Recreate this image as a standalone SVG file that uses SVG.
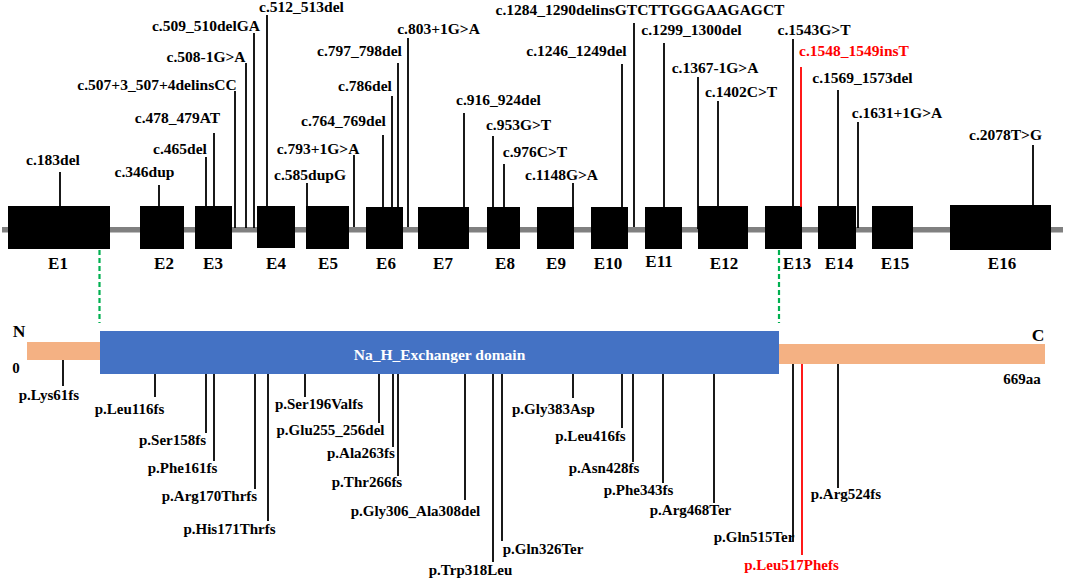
<svg xmlns="http://www.w3.org/2000/svg" width="1065" height="582" viewBox="0 0 1065 582">
<style>
text{font-family:"Liberation Serif","Times New Roman",serif;font-weight:bold;fill:#000;text-anchor:middle}
.m{font-size:15.5px}
.p{font-size:15px}
.ex{font-size:17px}
.red{fill:#FF0000}
.dom{fill:#FFFFFF;font-size:15.5px}
.big{font-size:17.5px}
line{stroke:#000;stroke-width:1.8}
line.r{stroke:#FF0000}
line.g{stroke:#00B050;stroke-width:2.2;stroke-dasharray:5,3}
.exon{fill:#000}
</style>
<rect width="1065" height="582" fill="#fff"/>
<g id="gene-backbone"><rect x="2" y="227" width="1061" height="5.5" fill="#808080"/></g>
<g id="exons">
<g id="E1"><rect class="exon" x="8" y="206" width="102" height="43"/><text class="ex" x="58" y="269">E1</text></g>
<g id="E2"><rect class="exon" x="140" y="206" width="44" height="43"/><text class="ex" x="164" y="269">E2</text></g>
<g id="E3"><rect class="exon" x="195" y="206" width="37" height="43"/><text class="ex" x="213" y="269">E3</text></g>
<g id="E4"><rect class="exon" x="257" y="206" width="38" height="42"/><text class="ex" x="276" y="269">E4</text></g>
<g id="E5"><rect class="exon" x="306" y="206" width="43" height="43"/><text class="ex" x="328" y="269">E5</text></g>
<g id="E6"><rect class="exon" x="366" y="207" width="37" height="42" fill="#111"/><text class="ex" x="386" y="269">E6</text></g>
<g id="E7"><rect class="exon" x="418" y="207" width="51" height="42" fill="#111"/><text class="ex" x="443" y="269">E7</text></g>
<g id="E8"><rect class="exon" x="487" y="207" width="33" height="42"/><text class="ex" x="505" y="269">E8</text></g>
<g id="E9"><rect class="exon" x="537" y="207" width="37" height="42" fill="#111"/><text class="ex" x="556" y="269">E9</text></g>
<g id="E10"><rect class="exon" x="591" y="207" width="37" height="42" fill="#111"/><text class="ex" x="608" y="269">E10</text></g>
<g id="E11"><rect class="exon" x="645" y="207" width="37" height="42"/><text class="ex" x="659" y="267">E11</text></g>
<g id="E12"><rect class="exon" x="698" y="206" width="50" height="43" fill="#111"/><text class="ex" x="724" y="269">E12</text></g>
<g id="E13"><rect class="exon" x="765" y="206" width="37" height="43" fill="#111"/><text class="ex" x="797" y="269">E13</text></g>
<g id="E14"><rect class="exon" x="818" y="206" width="38" height="43" fill="#111"/><text class="ex" x="839" y="269">E14</text></g>
<g id="E15"><rect class="exon" x="872" y="206" width="41" height="43"/><text class="ex" x="895" y="269">E15</text></g>
<g id="E16"><rect class="exon" x="950" y="205" width="101" height="45"/><text class="ex" x="1002" y="269">E16</text></g>
</g>
<g id="protein">
<rect id="N-term" x="27" y="342" width="73" height="18" fill="#F4B183"/>
<rect id="C-term" x="779" y="344" width="266" height="20" fill="#F4B183"/>
<g id="domain"><rect x="100" y="331" width="679" height="43" fill="#4472C4"/><text class="dom" x="439.5" y="360">Na_H_Exchanger domain</text></g>
<text class="big" x="19" y="337">N</text>
<text class="p" x="16" y="373">0</text>
<text class="big" x="1038" y="341">C</text>
<text class="p" x="1022" y="384">669aa</text>
</g>
<g id="connectors">
<line class="g" x1="99.5" y1="250" x2="99.5" y2="323"/>
<line class="g" x1="779" y1="250" x2="779" y2="323"/>
<line x1="60" y1="172" x2="60" y2="206"/>
<line x1="159" y1="185" x2="159" y2="206"/>
<line x1="206" y1="157" x2="206" y2="206"/>
<line x1="214" y1="133" x2="214" y2="215"/>
<line x1="235" y1="91" x2="235" y2="228"/>
<line x1="246" y1="63" x2="246" y2="228"/>
<line x1="254" y1="33" x2="254" y2="228"/>
<line x1="267" y1="15" x2="267" y2="206"/>
<line x1="307" y1="183" x2="307" y2="206"/>
<line x1="354" y1="155" x2="354" y2="227"/>
<line x1="383" y1="135" x2="383" y2="213"/>
<line x1="392" y1="96" x2="392" y2="207"/>
<line x1="398" y1="63" x2="398" y2="207"/>
<line x1="408" y1="38" x2="408" y2="227"/>
<line x1="464" y1="113" x2="464" y2="207"/>
<line x1="493" y1="136" x2="493" y2="207"/>
<line x1="504" y1="164" x2="504" y2="207"/>
<line x1="573" y1="183" x2="573" y2="207"/>
<line x1="622" y1="64" x2="622" y2="216"/>
<line x1="634" y1="23" x2="634" y2="227"/>
<line x1="664" y1="43" x2="664" y2="207"/>
<line x1="698" y1="77" x2="698" y2="229"/>
<line x1="718" y1="101" x2="718" y2="217"/>
<line x1="793" y1="39" x2="793" y2="207"/>
<line class="r" x1="801" y1="67" x2="801" y2="207"/>
<line x1="838" y1="90" x2="838" y2="215"/>
<line x1="858" y1="122" x2="858" y2="228"/>
<line x1="1033" y1="145" x2="1033" y2="205"/>
<line x1="63" y1="360" x2="63" y2="386"/>
<line x1="155" y1="374" x2="155" y2="397"/>
<line x1="206" y1="374" x2="206" y2="433"/>
<line x1="214" y1="374" x2="214" y2="461"/>
<line x1="255" y1="374" x2="255" y2="489"/>
<line x1="268" y1="374" x2="268" y2="521"/>
<line x1="305" y1="374" x2="305" y2="397"/>
<line x1="379" y1="374" x2="379" y2="423"/>
<line x1="393" y1="374" x2="393" y2="447"/>
<line x1="398" y1="374" x2="398" y2="476"/>
<line x1="465" y1="374" x2="465" y2="500"/>
<line x1="493" y1="374" x2="493" y2="562"/>
<line x1="502" y1="374" x2="502" y2="541"/>
<line x1="573" y1="374" x2="573" y2="398"/>
<line x1="622" y1="374" x2="622" y2="428"/>
<line x1="633" y1="374" x2="633" y2="462"/>
<line x1="663" y1="374" x2="663" y2="483"/>
<line x1="714" y1="374" x2="714" y2="503"/>
<line x1="793" y1="364" x2="793" y2="542"/>
<line class="r" x1="802" y1="364" x2="802" y2="555"/>
<line x1="838" y1="364" x2="838" y2="488"/>
</g>
<g id="dna-variants">
<text class="m" x="53" y="165">c.183del</text>
<text class="m" x="144.5" y="177">c.346dup</text>
<text class="m" x="180" y="154">c.465del</text>
<text class="m" x="177.5" y="123">c.478_479AT</text>
<text class="m" x="157" y="90">c.507+3_507+4delinsCC</text>
<text class="m" x="206" y="62">c.508-1G&gt;A</text>
<text class="m" x="206" y="31">c.509_510delGA</text>
<text class="m" x="301.5" y="12">c.512_513del</text>
<text class="m" x="310" y="180">c.585dupG</text>
<text class="m" x="318" y="154">c.793+1G&gt;A</text>
<text class="m" x="343.5" y="126">c.764_769del</text>
<text class="m" x="365" y="91">c.786del</text>
<text class="m" x="359.5" y="56">c.797_798del</text>
<text class="m" x="438.5" y="34">c.803+1G&gt;A</text>
<text class="m" x="498.5" y="105">c.916_924del</text>
<text class="m" x="518.5" y="130">c.953G&gt;T</text>
<text class="m" x="535" y="157">c.976C&gt;T</text>
<text class="m" x="561.5" y="180">c.1148G&gt;A</text>
<text class="m" x="576.5" y="56">c.1246_1249del</text>
<text class="m" x="640" y="15">c.1284_1290delinsGTCTTGGGAAGAGCT</text>
<text class="m" x="691.5" y="35">c.1299_1300del</text>
<text class="m" x="715" y="73">c.1367-1G&gt;A</text>
<text class="m" x="741" y="97">c.1402C&gt;T</text>
<text class="m" x="814" y="35">c.1543G&gt;T</text>
<text class="m red" x="854" y="56">c.1548_1549insT</text>
<text class="m" x="862.5" y="83">c.1569_1573del</text>
<text class="m" x="897" y="118">c.1631+1G&gt;A</text>
<text class="m" x="1005.5" y="140">c.2078T&gt;G</text>
</g>
<g id="protein-variants">
<text class="p" x="49" y="400">p.Lys61fs</text>
<text class="p" x="129.5" y="414">p.Leu116fs</text>
<text class="p" x="172.5" y="445">p.Ser158fs</text>
<text class="p" x="182.5" y="473">p.Phe161fs</text>
<text class="p" x="209.5" y="501">p.Arg170Thrfs</text>
<text class="p" x="229.5" y="534">p.His171Thrfs</text>
<text class="p" x="319" y="409">p.Ser196Valfs</text>
<text class="p" x="330.5" y="435">p.Glu255_256del</text>
<text class="p" x="361" y="458">p.Ala263fs</text>
<text class="p" x="367" y="487">p.Thr266fs</text>
<text class="p" x="415.5" y="516">p.Gly306_Ala308del</text>
<text class="p" x="470.5" y="575">p.Trp318Leu</text>
<text class="p" x="543" y="554">p.Gln326Ter</text>
<text class="p" x="553.5" y="414">p.Gly383Asp</text>
<text class="p" x="590.5" y="441">p.Leu416fs</text>
<text class="p" x="604" y="473">p.Asn428fs</text>
<text class="p" x="638.5" y="495">p.Phe343fs</text>
<text class="p" x="690.5" y="515">p.Arg468Ter</text>
<text class="p" x="754" y="542">p.Gln515Ter</text>
<text class="p red" x="791.5" y="570">p.Leu517Phefs</text>
<text class="p" x="846" y="499">p.Arg524fs</text>
</g>
</svg>
